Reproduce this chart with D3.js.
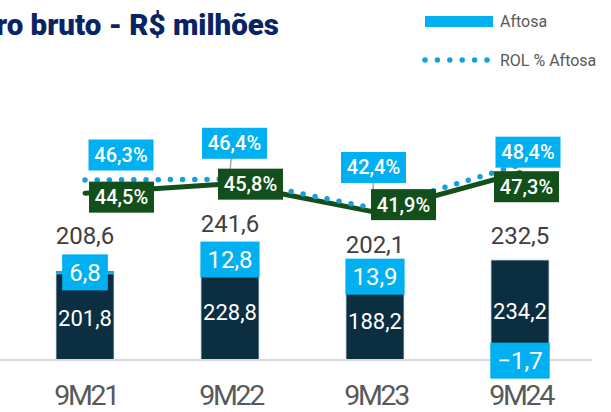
<!DOCTYPE html>
<html>
<head>
<meta charset="utf-8">
<script src="https://cdn.jsdelivr.net/npm/d3@7"></script>
<style>
  body { margin: 0; background: #fff; }
  svg { display: block; font-family: Roboto, "Open Sans", sans-serif; }
</style>
</head>
<body>
<div id="chart"></div>
<script>
// data
const categories = ["9M21", "9M22", "9M23", "9M24"];
const baseValues = [201.8, 228.8, 188.2, 234.2];   // dark bar
const aftosaValues = [6.8, 12.8, 13.9, -1.7];      // Aftosa
const totalValues = [208.6, 241.6, 202.1, 232.5];
const rolAftosa = [46.3, 46.4, 42.4, 48.4];        // ROL % Aftosa (dotted)
const margemValues = [44.5, 45.8, 41.9, 47.3];     // solid green line

const width = 611, height = 412;
const navy = "#0b2e40", blue = "#00b0f0", dotBlue = "#14a0dc", green = "#134f1b";

const fmt = v => d3.format(".1f")(v).replace(".", ",").replace("-", "−");

const svg = d3.select("#chart").append("svg")
  .attr("width", width).attr("height", height);

let x = d3.scaleBand().domain(categories)
  .range([-16.5, 621.5]).paddingInner(0.6).paddingOuter(0.5);
let yBar = d3.scaleLinear().domain([0, 250]).range([360, 253.25]);
let yPct = d3.scaleLinear().domain([40, 50]).range([226, 153]);
const cx = c => x(c) + x.bandwidth() / 2;

// title (left part cut off by the frame, as in the slide)
svg.append("text")
  .attr("x", 279).attr("y", 35)
  .attr("text-anchor", "end")
  .attr("fill", "#0a2463")
  .style("font-size", "29.5px").style("font-weight", 900)
  .text("Lucro bruto - R$ milhões");

// legend
const legend = svg.append("g");
legend.append("rect").attr("x", 425).attr("y", 16).attr("width", 68).attr("height", 11).attr("fill", blue);
legend.append("text").attr("x", 500).attr("y", 21.5).attr("dy", "0.35em")
  .attr("fill", "#595959").style("font-size", "16px").text("Aftosa");
legend.append("line").attr("x1", 425).attr("x2", 490).attr("y1", 60).attr("y2", 60)
  .attr("stroke", dotBlue).attr("stroke-width", 5.5).attr("stroke-linecap", "round")
  .attr("stroke-dasharray", "0 12.4");
legend.append("text").attr("x", 500).attr("y", 60).attr("dy", "0.35em")
  .attr("fill", "#595959").style("font-size", "16px").text("ROL % Aftosa");

// bars
const bars = categories.map((c, i) => ({ c, base: baseValues[i], aft: aftosaValues[i], total: totalValues[i] }));

svg.append("g").selectAll("rect")
  .data(bars)
  .join("rect")
  .attr("x", d => x(d.c))
  .attr("width", x.bandwidth())
  .attr("y", d => yBar(d.base))
  .attr("height", d => yBar(0) - yBar(d.base))
  .attr("fill", navy)
  .attr("stroke", "#d3dbe0").attr("stroke-width", 0.8);

svg.append("g").selectAll("rect")
  .data(bars)
  .join("rect")
  .attr("x", d => x(d.c))
  .attr("width", x.bandwidth())
  .attr("y", d => d.aft >= 0 ? yBar(d.base + d.aft) : yBar(0))
  .attr("height", d => Math.abs(yBar(0) - yBar(Math.abs(d.aft))))
  .attr("fill", blue);

// axis line
svg.append("line")
  .attr("x1", 0).attr("x2", 592)
  .attr("y1", yBar(0)).attr("y2", yBar(0))
  .attr("stroke", "#d9d9d9").attr("stroke-width", 2);

// category labels
const xAxis = d3.axisBottom(x).tickSize(0).tickPadding(0);
const axisG = svg.append("g").attr("transform", "translate(0,405)").call(xAxis);
axisG.select(".domain").remove();
axisG.selectAll("text")
  .attr("dy", 0)
  .attr("fill", "#595959")
  .style("font-family", "Roboto, sans-serif")
  .style("font-size", "28.5px")
  .style("letter-spacing", "-2.3px")
  .attr("dx", "1.1px");

// inner labels
svg.append("g").selectAll("text")
  .data(bars)
  .join("text")
  .attr("x", d => cx(d.c))
  .attr("y", d => (yBar(0) + yBar(d.base)) / 2 + 1)
  .attr("text-anchor", "middle").attr("dy", "0.35em")
  .attr("fill", "#fff").style("font-size", "22px")
  .text(d => fmt(d.base));

// total labels
const totalDy = [27, 25, 21, 16];
svg.append("g").selectAll("text")
  .data(bars)
  .join("text")
  .attr("x", d => cx(d.c))
  .attr("y", (d, i) => yBar(Math.max(d.base, d.base + d.aft)) - totalDy[i])
  .attr("text-anchor", "middle")
  .attr("fill", "#404040").style("font-size", "24px")
  .text(d => fmt(d.total));

// aftosa boxes
const aftG = svg.append("g").selectAll("g")
  .data(bars)
  .join("g")
  .attr("transform", d => {
    const yc = d.aft >= 0 ? (yBar(d.base) + yBar(d.base + d.aft)) / 2 : (yBar(0) + yBar(-d.aft)) / 2 + 1;
    return `translate(${cx(d.c)},${yc})`;
  });
aftG.append("text")
  .attr("text-anchor", "middle").attr("dy", "0.35em")
  .attr("fill", "#fff").style("font-size", "24px")
  .text(d => fmt(d.aft));
aftG.each(function () {
  const g = d3.select(this);
  const bb = g.select("text").node().getBBox();
  g.insert("rect", "text")
    .attr("x", -bb.width / 2 - 7).attr("width", bb.width + 14)
    .attr("y", -18).attr("height", 36)
    .attr("fill", blue);
});

// lines
const line = yS => d3.line().x((d, i) => cx(categories[i])).y(d => yS(d));

svg.append("path")
  .datum(margemValues)
  .attr("d", line(yPct))
  .attr("fill", "none").attr("stroke", green)
  .attr("stroke-width", 5).attr("stroke-linecap", "round").attr("stroke-linejoin", "round");

svg.append("path")
  .datum(rolAftosa)
  .attr("d", line(yPct))
  .attr("fill", "none").attr("stroke", dotBlue)
  .attr("stroke-width", 5.5).attr("stroke-linecap", "round")
  .attr("stroke-dasharray", "0 12.2");

// percentage label boxes (offset from point to box centre)
const blueOff = [[36, -25], [4.5, -36], [-1.5, -41], [8, -12.5]];
const greenOff = [[36.5, 4], [20.5, 0.5], [28.5, -7.5], [6.5, 14]];

// leader lines for 9M22 and 9M23
[1, 2].forEach(i => {
  const px = cx(categories[i]), py = yPct(rolAftosa[i]);
  svg.append("line")
    .attr("x1", px + blueOff[i][0] - (i === 1 ? 2 : 0)).attr("y1", py + blueOff[i][1])
    .attr("x2", i === 1 ? px - 1 : px - 2).attr("y2", i === 1 ? py + 3 : yPct(margemValues[i]))
    .attr("stroke", "#a6a6a6").attr("stroke-width", 1.5);
});

function pctBoxes(values, offs, fill) {
  const g = svg.append("g").selectAll("g")
    .data(values)
    .join("g")
    .attr("transform", (d, i) => `translate(${cx(categories[i]) + offs[i][0]},${yPct(d) + offs[i][1]})`);
  g.append("rect")
    .attr("x", -32.5).attr("width", 65)
    .attr("y", -15.5).attr("height", 31)
    .attr("fill", fill);
  g.append("text")
    .attr("text-anchor", "middle").attr("dy", "0.35em")
    .attr("fill", "#fff").style("font-size", "20px").style("font-weight", 500)
    .text(d => d3.format(".1f")(d).replace(".", ",") + "%");
}
pctBoxes(rolAftosa, blueOff, blue);
pctBoxes(margemValues, greenOff, green);
</script>
</body>
</html>
